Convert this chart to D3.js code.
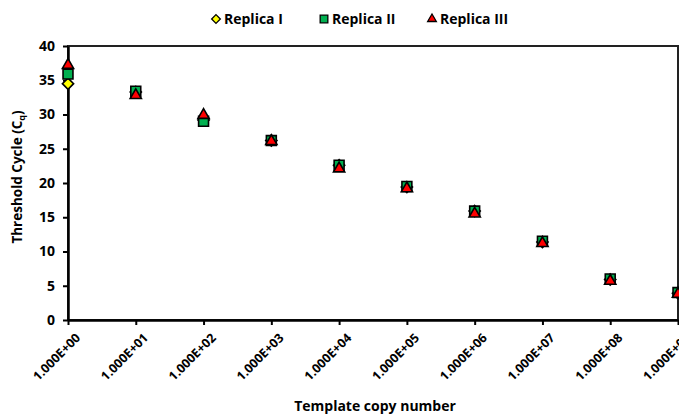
<!DOCTYPE html>
<html>
<head>
<meta charset="utf-8">
<script src="https://cdn.jsdelivr.net/npm/d3@7"></script>
<style>
  body { margin: 0; background: #fff; }
  text { font-family: "Open Sans", "Noto Sans", sans-serif; font-weight: bold; fill: #000; }
</style>
</head>
<body>
<div id="chart"></div>
<script>
// template copy numbers on the x axis
const copies = [1e0, 1e1, 1e2, 1e3, 1e4, 1e5, 1e6, 1e7, 1e8, 1e9];
const replicaI = [34.5, 33.3, 29.2, 26.2, 22.6, 19.4, 15.9, 11.4, 5.9, 3.9];
const replicaII = [35.9, 33.4, 29.0, 26.2, 22.6, 19.5, 15.9, 11.5, 6.0, 4.0];
const replicaIII = [37.2, 32.8, 29.9, 26.1, 22.1, 19.2, 15.5, 11.2, 5.7, 3.8];
const yTicks = [0, 5, 10, 15, 20, 25, 30, 35, 40];
const seriesNames = ["Replica I", "Replica II", "Replica III"];

const width = 679, height = 416;
const margin = {top: 46, right: 1, bottom: 96, left: 68};
const innerW = width - margin.left - margin.right;
const innerH = height - margin.top - margin.bottom;

const svg = d3.select("#chart").append("svg")
    .attr("width", width)
    .attr("height", height);

const g = svg.append("g")
    .attr("transform", `translate(${margin.left},${margin.top})`);

const xScale = d3.scaleLog().domain([1, 1e9]).range([0, innerW]);
const yScale = d3.scaleLinear().domain([0, 40]).range([innerH, 0]);

// plot border (top / right)
g.append("rect")
    .attr("x", 0).attr("y", 0)
    .attr("width", innerW).attr("height", innerH)
    .attr("fill", "none")
    .attr("stroke", "#222")
    .attr("stroke-width", 2);

const fmt = d => "1.000E+" + String(Math.round(Math.log10(d))).padStart(2, "0");

const xAxis = d3.axisBottom(xScale)
    .tickValues(copies)
    .tickFormat(fmt)
    .tickSize(5)
    .tickSizeOuter(0);

const xg = g.append("g")
    .attr("transform", `translate(0,${innerH})`)
    .call(xAxis);
xg.select(".domain").attr("stroke-width", 2.5);
xg.selectAll(".tick line").attr("stroke-width", 2);
xg.selectAll(".tick text")
    .attr("font-size", 12.5)
    .attr("text-anchor", "end")
    .attr("dx", 0)
    .attr("dy", 0)
    .attr("transform", "translate(7,13) rotate(-45)");

const yAxis = d3.axisLeft(yScale)
    .tickValues(yTicks)
    .tickSize(5)
    .tickSizeOuter(0)
    .tickPadding(8);

const yg = g.append("g").call(yAxis);
yg.select(".domain").attr("stroke-width", 2.5);
yg.selectAll(".tick line").attr("stroke-width", 2);
yg.selectAll(".tick text").attr("font-size", 14);

// axis titles
svg.append("text")
    .attr("x", 375)
    .attr("y", 411)
    .attr("text-anchor", "middle")
    .attr("font-size", 14)
    .text("Template copy number");

const yt = svg.append("text")
    .attr("transform", "translate(22,177) rotate(-90)")
    .attr("text-anchor", "middle")
    .attr("font-size", 13.5);
yt.append("tspan").text("Threshold Cycle (C");
yt.append("tspan").attr("font-size", 9).attr("dy", 3).text("q");
yt.append("tspan").attr("dy", -3).text(")");

// markers
const symbols = [
  {type: d3.symbolDiamond2, size: 80, fill: "#FFFF00"},
  {type: d3.symbolSquare2, size: 125, fill: "#00B050"},
  {type: d3.symbolTriangle2, size: 90, fill: "#FF0000"}
];
const allSeries = [replicaI, replicaII, replicaIII];

allSeries.forEach((vals, i) => {
  const sym = d3.symbol().type(symbols[i].type).size(symbols[i].size);
  g.selectAll(".pt" + i)
    .data(vals)
    .join("path")
    .attr("class", "pt" + i)
    .attr("d", sym)
    .attr("transform", (d, j) => `translate(${xScale(copies[j])},${yScale(d)})`)
    .attr("fill", symbols[i].fill)
    .attr("stroke", "#000")
    .attr("stroke-width", 1.6);
});

// legend
const legendX = [216, 324, 432];
seriesNames.forEach((name, i) => {
  const sym = d3.symbol().type(symbols[i].type).size(symbols[i].size * 0.6);
  svg.append("path")
      .attr("d", sym)
      .attr("transform", `translate(${legendX[i]},19)`)
      .attr("fill", symbols[i].fill)
      .attr("stroke", "#000")
      .attr("stroke-width", 1.3);
  svg.append("text")
      .attr("x", legendX[i] + 8)
      .attr("y", 24)
      .attr("font-size", 14)
      .text(name);
});
</script>
</body>
</html>
